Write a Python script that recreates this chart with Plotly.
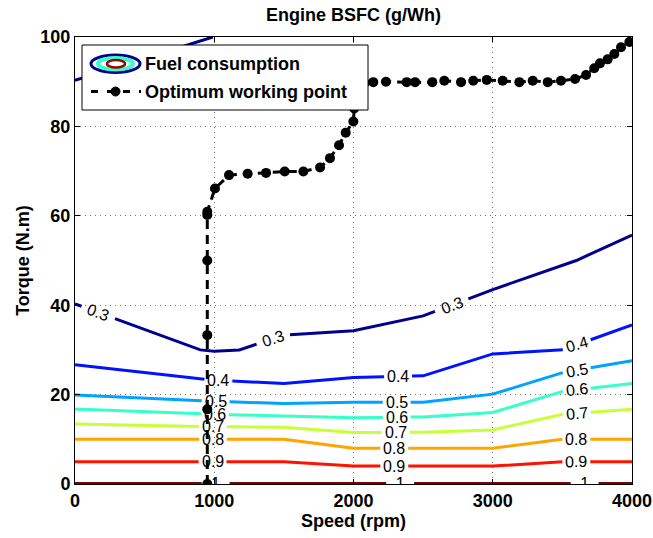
import numpy as np
import plotly.graph_objects as go

# ---- BSFC iso-lines (normalised), speed in rpm, torque in N.m ----
speed_grid = [0, 1000, 1500, 2000, 2500, 3000, 3500, 4000]

lvl03_x = [0, 900, 1000, 1180, 1500, 2000, 2500, 3000, 3600, 4000]
lvl03_y = [40.3, 30.0, 29.7, 30.0, 33.3, 34.3, 37.6, 43.5, 50.0, 55.7]
lvl03_top_x = [0, 990]
lvl03_top_y = [90.3, 100.0]

lvl04_y = [26.7, 23.2, 22.5, 23.8, 24.2, 29.1, 30.0, 35.6]
lvl05_y = [19.9, 18.5, 18.0, 18.3, 18.3, 20.1, 24.9, 27.6]
lvl06_y = [16.8, 15.6, 15.2, 14.8, 15.0, 16.0, 20.7, 22.5]
lvl07_y = [13.4, 12.8, 12.7, 11.5, 11.6, 12.1, 15.6, 16.7]
lvl08_y = [10.0, 10.0, 10.0, 8.0, 8.0, 8.0, 10.0, 10.0]
lvl09_y = [5.0, 5.0, 5.0, 4.0, 4.0, 4.0, 5.0, 5.0]
lvl10_y = [0.25, 0.25, 0.25, 0.25, 0.25, 0.25, 0.25, 0.25]

levels = ["0.3", "0.4", "0.5", "0.6", "0.7", "0.8", "0.9", "1"]
level_colors = ["#00008f", "#0012ff", "#00a4ff", "#37ffc8",
                "#c8ff37", "#ffa400", "#ff1200", "#800000"]

# label speeds and text angles along each iso-line
label_x = {
    "0.3": [167, 1424, 2705], "0.4": [1030, 2320, 3603],
    "0.5": [1010, 2310, 3603], "0.6": [1005, 2310, 3603],
    "0.7": [990, 2303, 3603], "0.8": [990, 2293, 3600],
    "0.9": [988, 2293, 3600], "1": [1010, 2335, 3660],
}
label_angle = {
    "0.3": [20, -18, -21], "0.4": [0, 0, -16], "0.5": [0, 0, -10],
    "0.6": [0, 0, -7], "0.7": [0, 0, -6], "0.8": [0, 0, 0],
    "0.9": [0, 0, -2], "1": [0, 0, 0],
}

# ---- optimum working point line ----
opt_speed = [950, 950, 950, 950, 950, 950, 1005, 1106, 1240, 1372, 1506, 1640,
             1760, 1831, 1896, 1944, 1999, 2005, 2015, 2040, 2080,
             2142, 2233, 2382, 2442, 2566, 2652, 2772, 2860, 2957, 3071, 3191,
             3287, 3395, 3490, 3591, 3670, 3729, 3770, 3825, 3873, 3921, 3981]
opt_torque = [0, 16.7, 33.3, 50.0, 60.2, 60.9, 66.1, 69.1, 69.4, 69.6, 69.9, 69.9,
              70.8, 72.9, 75.8, 78.6, 81.1, 84.0, 87.0, 89.0, 89.7,
              89.9, 90.0, 89.9, 89.9, 89.9, 90.2, 89.9, 90.2, 90.4, 90.2, 89.9,
              90.2, 89.9, 90.2, 90.6, 91.5, 93.0, 94.1, 95.0, 96.2, 97.7, 98.9]

FONT = "Arial, Liberation Sans, Helvetica, sans-serif"
LABEL_SIZE = 16

level_x = {lv: speed_grid for lv in levels[1:]}
level_x["0.3"] = lvl03_x
level_y = {"0.3": lvl03_y, "0.4": lvl04_y, "0.5": lvl05_y, "0.6": lvl06_y,
           "0.7": lvl07_y, "0.8": lvl08_y, "0.9": lvl09_y, "1": lvl10_y}


def broken_line(xs, ys, centers, half):
    """Polyline with gaps left open around the label positions."""
    xs = np.asarray(xs, float)
    ys = np.asarray(ys, float)
    pts = [(x, y) for x, y in zip(xs, ys)
           if all(abs(x - c) >= half for c in centers)]
    for c in centers:
        for e in (c - half, c + half):
            if xs[0] <= e <= xs[-1]:
                pts.append((e, float(np.interp(e, xs, ys))))
        if xs[0] <= c <= xs[-1]:
            pts.append((c, None))
    pts.sort(key=lambda p: p[0])
    return [p[0] for p in pts], [p[1] for p in pts]


fig = go.Figure()

for lv, col in zip(levels, level_colors):
    half = 120 if lv == "0.3" else 100
    bx, by = broken_line(level_x[lv], level_y[lv], label_x[lv], half)
    fig.add_trace(go.Scatter(x=bx, y=by, mode="lines", connectgaps=False,
                             line=dict(color=col, width=2 if lv == "1" else 3),
                             showlegend=False, hoverinfo="skip"))

fig.add_trace(go.Scatter(x=lvl03_top_x, y=lvl03_top_y, mode="lines",
                         line=dict(color=level_colors[0], width=3),
                         showlegend=False, hoverinfo="skip"))

fig.add_trace(go.Scatter(x=opt_speed, y=opt_torque, mode="lines+markers",
                         line=dict(color="black", width=3, dash="9px,6px"),
                         marker=dict(color="black", size=10),
                         showlegend=False))

# iso-line labels
for lv in levels:
    xs = level_x[lv]
    ys = level_y[lv]
    if lv == "1":
        lx = label_x[lv]
        fig.add_trace(go.Scatter(
            x=lx, y=[-0.3] * len(lx), mode="text", text=[lv] * len(lx),
            textfont=dict(family=FONT, size=LABEL_SIZE, color="black"),
            cliponaxis=True, showlegend=False, hoverinfo="skip"))
        continue
    for lx, ang in zip(label_x[lv], label_angle[lv]):
        ly = float(np.interp(lx, xs, ys))
        fig.add_annotation(x=lx, y=ly, text=lv, showarrow=False,
                           textangle=ang, xanchor="center", yanchor="middle",
                           font=dict(family=FONT, size=LABEL_SIZE, color="black"))

# ---- hand-drawn legend box (pixel layout -> paper coordinates) ----
L, R, T, B = 75, 21, 37, 54
W, H = 653, 538
PW, PH = W - L - R, H - T - B


def px(x):
    return (x - L) / PW


def py(y):
    return (H - B - y) / PH


shapes = [
    dict(type="rect", xref="paper", yref="paper", x0=px(82), x1=px(368),
         y0=py(110), y1=py(45), fillcolor="white",
         line=dict(color="black", width=1), layer="above"),
    dict(type="circle", xref="paper", yref="paper", x0=px(91), x1=px(140),
         y0=py(72.5), y1=py(55), fillcolor="white",
         line=dict(color="#00008f", width=3), layer="above"),
    dict(type="circle", xref="paper", yref="paper", x0=px(98), x1=px(133),
         y0=py(69.5), y1=py(58), fillcolor="white",
         line=dict(color="#37ffc8", width=4), layer="above"),
    dict(type="circle", xref="paper", yref="paper", x0=px(107), x1=px(125),
         y0=py(67.5), y1=py(60), fillcolor="white",
         line=dict(color="#a00000", width=2.5), layer="above"),
    dict(type="line", xref="paper", yref="paper", x0=px(91), x1=px(141),
         y0=py(91.5), y1=py(91.5),
         line=dict(color="black", width=3, dash="7px,9px"), layer="above"),
    dict(type="circle", xref="paper", yref="paper", x0=px(111), x1=px(120),
         y0=py(96), y1=py(87), fillcolor="black",
         line=dict(color="black", width=1), layer="above"),
]

fig.add_annotation(xref="paper", yref="paper", x=px(143), y=py(63.5),
                   xanchor="left", yanchor="middle", showarrow=False,
                   text="Fuel consumption",
                   font=dict(family=FONT, size=18, color="black", weight="bold"))
fig.add_annotation(xref="paper", yref="paper", x=px(143), y=py(92),
                   xanchor="left", yanchor="middle", showarrow=False,
                   text="Optimum working point",
                   font=dict(family=FONT, size=18, color="black", weight="bold"))

axis_common = dict(
    showline=True, linecolor="black", linewidth=1, mirror="ticks",
    ticks="inside", ticklen=5, tickcolor="black",
    showgrid=True, gridcolor="#707070", griddash="1px,4px", gridwidth=1,
    zeroline=False, automargin=False,
    tickfont=dict(family=FONT, size=18, color="black", weight="bold"),
)

fig.update_layout(
    width=W, height=H,
    margin=dict(l=L, r=R, t=T, b=B, autoexpand=False),
    paper_bgcolor="white", plot_bgcolor="white",
    shapes=shapes,
    title=dict(text="Engine BSFC (g/Wh)", x=0.5, xref="paper",
               y=1 - 15 / H, yanchor="middle",
               font=dict(family=FONT, size=18, color="black", weight="bold")),
    xaxis=dict(range=[0, 4000], tickvals=[0, 1000, 2000, 3000, 4000],
               title=dict(text="Speed (rpm)", standoff=2,
                          font=dict(family=FONT, size=18, color="black",
                                    weight="bold")),
               **axis_common),
    yaxis=dict(range=[0, 100], tickvals=[0, 20, 40, 60, 80, 100],
               title=dict(text="Torque (N.m)", standoff=6,
                          font=dict(family=FONT, size=18, color="black",
                                    weight="bold")),
               **axis_common),
)

fig.write_html("out.html")
